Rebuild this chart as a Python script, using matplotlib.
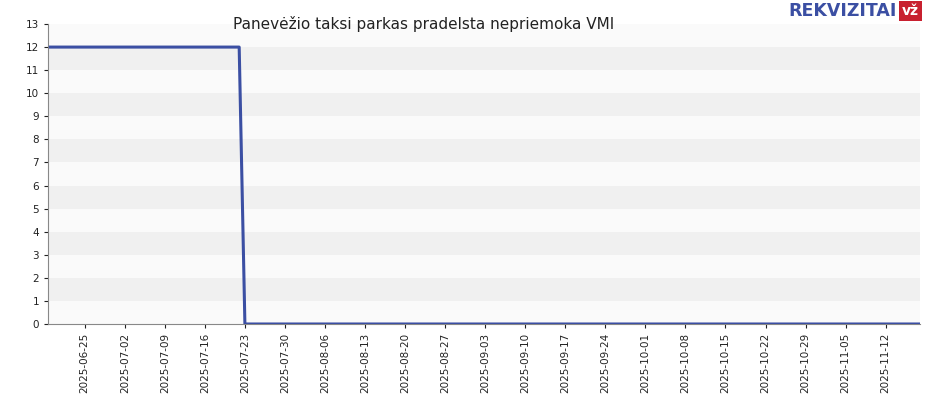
import matplotlib
matplotlib.use("Agg")
import matplotlib.pyplot as plt
import matplotlib.dates as mdates
from datetime import datetime, timedelta

dates = ["2025-06-19", "2025-07-22", "2025-07-23", "2025-11-18"]
values = [12, 12, 0, 0]
tick_start = "2025-06-25"
tick_end = "2025-11-12"
title = "Panevėžio taksi parkas pradelsta nepriemoka VMI"

x = [datetime.strptime(d, "%Y-%m-%d") for d in dates]
fig = plt.figure(figsize=(9.3, 4.0), dpi=100)
ax = fig.add_axes([48/930, 76/400, 872/930, 300/400])
for k in range(13):
    ax.axhspan(k, k+1, color="#f0f0f0" if k % 2 == 1 else "#fafafa", lw=0, zorder=0)
ax.plot(x, values, color="#3b4fa3", lw=2.2, zorder=3)
ax.set_xlim(x[0] - timedelta(hours=10), x[-1])
ax.set_ylim(0, 13)
ax.set_yticks(range(14))
t0 = datetime.strptime(tick_start, "%Y-%m-%d")
t1 = datetime.strptime(tick_end, "%Y-%m-%d")
ticks = []
t = t0
while t <= t1:
    ticks.append(t)
    t += timedelta(days=7)
ax.set_xticks(ticks)
ax.xaxis.set_major_formatter(mdates.DateFormatter("%Y-%m-%d"))
plt.setp(ax.get_xticklabels(), rotation=90)
ax.tick_params(labelsize=7.5, colors="#222222", length=3)
for s in ["top", "right"]:
    ax.spines[s].set_visible(False)
ax.spines["left"].set_color("#888888")
ax.spines["bottom"].set_color("#888888")
fig.text(0.455, 0.94, title, ha="center", va="center", fontsize=11, color="#222222")
fig.text(0.964, 0.972, "REKVIZITAI", ha="right", va="center", fontsize=12.5, fontweight="bold", color="#3b4fa3")
fig.text(0.979, 0.972, "vž", ha="center", va="center", fontsize=10, fontweight="bold", color="white",
         bbox=dict(boxstyle="square,pad=0.2", fc="#c8202f", ec="none"))
fig.savefig("out.png", dpi=100)
